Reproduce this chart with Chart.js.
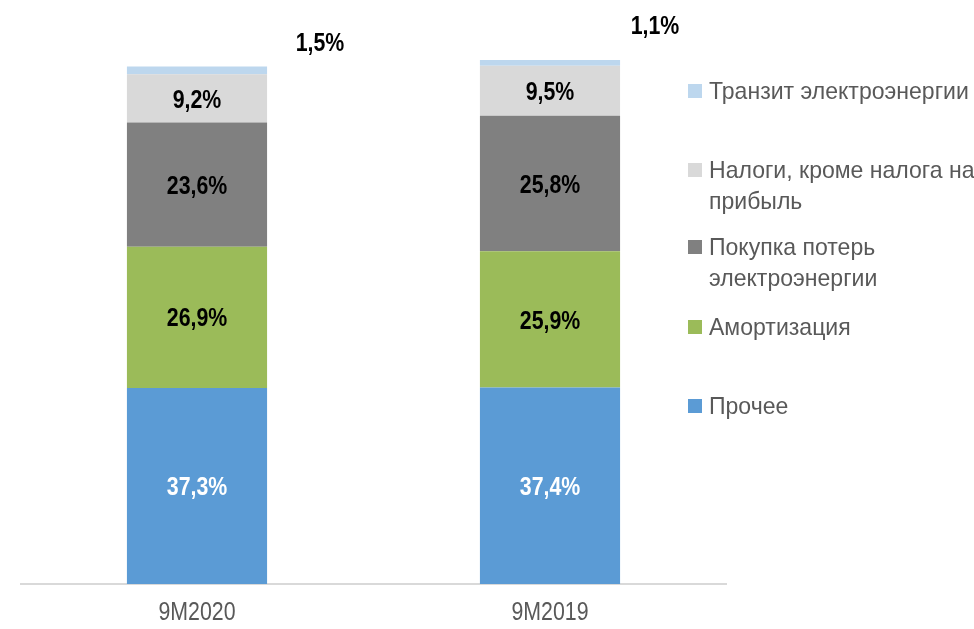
<!DOCTYPE html>
<html>
<head>
<meta charset="utf-8">
<script src="https://cdn.jsdelivr.net/npm/chart.js@4"></script>
<style>
  html, body { margin: 0; padding: 0; background: #fff; }
  #wrap { width: 974px; height: 629px; }
</style>
</head>
<body>
<div id="wrap"><canvas id="chart" width="974" height="629"></canvas></div>
<script>
const categories = ["9M2020", "9M2019"];

// series, bottom to top
const prochee = [37.3, 37.4];
const amortizatsiya = [26.9, 25.9];
const pokupkaPoter = [23.6, 25.8];
const nalogi = [9.2, 9.5];
const tranzit = [1.5, 1.1];

const seriesNames = [
  "Прочее",
  "Амортизация",
  "Покупка потерь\nэлектроэнергии",
  "Налоги, кроме налога на\nприбыль",
  "Транзит электроэнергии"
];

const FONT = "'Liberation Sans', Arial, sans-serif";
const NARROW = 0.82; // no narrow face installed, squeeze the text instead

const fmt = v => v.toFixed(1).replace(".", ",") + "%";

function narrowText(ctx, text, x, y, align, sx) {
  ctx.save();
  ctx.translate(x, y);
  ctx.scale(sx || NARROW, 1);
  ctx.textAlign = align;
  ctx.fillText(text, 0, 0);
  ctx.restore();
}

// labels inside the bars, and the small top segment labelled outside
const barLabels = {
  id: "barLabels",
  afterDatasetsDraw(chart) {
    const ctx = chart.ctx;
    const outside = [{ dx: 123, dy: -23 }, { dx: 105, dy: -33 }];
    ctx.save();
    ctx.font = "bold 26px " + FONT;
    ctx.textBaseline = "middle";
    chart.data.datasets.forEach((ds, i) => {
      const meta = chart.getDatasetMeta(i);
      meta.data.forEach((bar, j) => {
        const v = ds.data[j];
        if (ds.outsideLabel) {
          ctx.fillStyle = "#000";
          narrowText(ctx, fmt(v), bar.x + outside[j].dx, bar.y + outside[j].dy, "center");
        } else {
          ctx.fillStyle = ds.labelColor;
          narrowText(ctx, fmt(v), bar.x, (bar.y + bar.base) / 2 + 2, "center");
        }
      });
    });

    // category labels under the axis
    const xs = chart.scales.x;
    ctx.font = "26px " + FONT;
    ctx.fillStyle = "#595959";
    categories.forEach((c, j) => {
      narrowText(ctx, c, xs.getPixelForValue(j), chart.chartArea.bottom + 29, "center");
    });
    ctx.restore();
  }
};

// legend on the right, top item = top segment
const sideLegend = {
  id: "sideLegend",
  afterDraw(chart) {
    const ctx = chart.ctx;
    const itemY = [91, 170, 247, 327, 406];
    const lineH = 31;
    ctx.save();
    ctx.font = "24px " + FONT;
    ctx.textBaseline = "middle";
    const sets = chart.data.datasets.slice().reverse();
    sets.forEach((ds, k) => {
      const y = itemY[k];
      ctx.fillStyle = ds.backgroundColor;
      ctx.fillRect(688, y - 7, 14, 14);
      ctx.fillStyle = "#595959";
      ds.label.split("\n").forEach((line, n) => {
        narrowText(ctx, line, 709, y + 1 + n * lineH, "left", 0.96);
      });
    });
    ctx.restore();
  }
};

const colors = ["#5B9BD5", "#9BBB59", "#808080", "#D9D9D9", "#BDD7EE"];
const labelColors = ["#FFFFFF", "#000000", "#000000", "#000000", "#000000"];
const values = [prochee, amortizatsiya, pokupkaPoter, nalogi, tranzit];

new Chart(document.getElementById("chart"), {
  type: "bar",
  data: {
    labels: categories,
    datasets: values.map((d, i) => ({
      label: seriesNames[i],
      data: d,
      backgroundColor: colors[i],
      labelColor: labelColors[i],
      outsideLabel: i === 4,
      borderWidth: 0,
      categoryPercentage: 1,
      barPercentage: 0.397
    }))
  },
  options: {
    responsive: false,
    animation: false,
    layout: { padding: { left: 20.5, right: 247.5, top: 58.5, bottom: 0 } },
    plugins: { legend: { display: false }, tooltip: { enabled: false } },
    scales: {
      x: {
        stacked: true,
        grid: { display: false },
        border: { display: true, color: "#D9D9D9", width: 2 },
        ticks: { display: false },
        afterFit(scale) { scale.height = 45; }
      },
      y: {
        stacked: true,
        display: false,
        min: 0,
        max: 100
      }
    }
  },
  plugins: [barLabels, sideLegend]
});
</script>
</body>
</html>
